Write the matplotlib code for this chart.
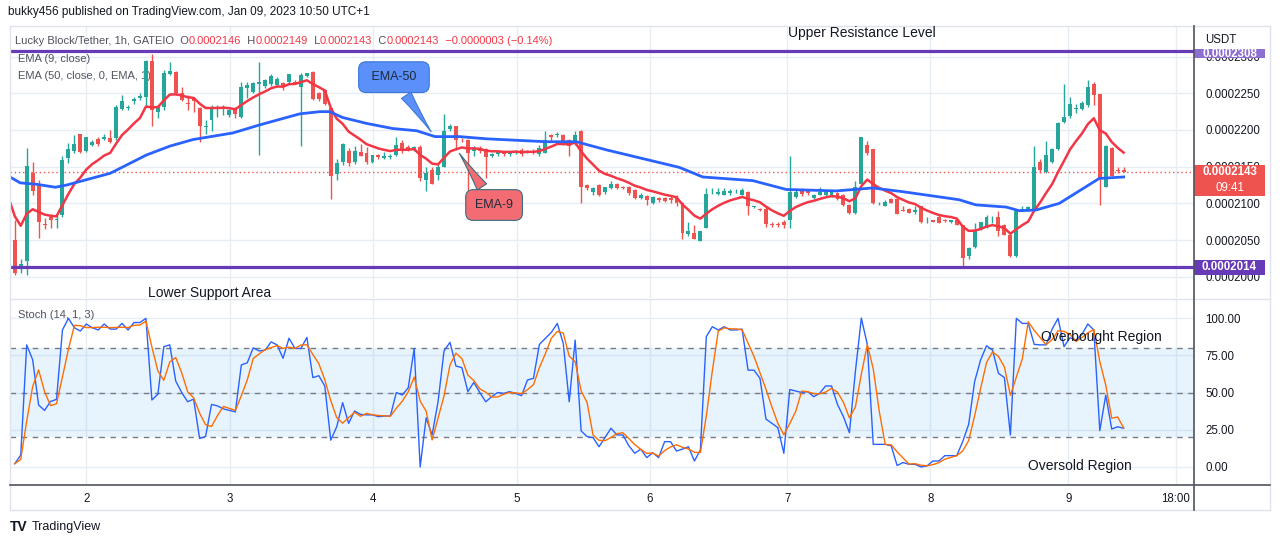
import numpy as np
import pandas as pd
import matplotlib
matplotlib.use('Agg')
import matplotlib.pyplot as plt
from matplotlib.patches import Rectangle
from matplotlib.lines import Line2D
from matplotlib.transforms import blended_transform_factory

plt.rcParams['font.family'] = ['Liberation Sans', 'DejaVu Sans']

# LBLOCK/USDT 1h candles, prices in units of 1e-7 USDT
opens = [2050, 2010, 2021, 2141, 2124, 2072, 2081, 2077, 2084, 2162,
         2171, 2194, 2172, 2179, 2188, 2188, 2189, 2189, 2229, 2230,
         2239, 2243, 2245, 2294, 2224, 2232, 2276, 2279, 2250, 2237,
         2242, 2230, 2204, 2213, 2229, 2230, 2220, 2230, 2218, 2257,
         2252, 2263, 2260, 2263, 2261, 2264, 2265, 2266, 2258, 2274,
         2279, 2250, 2255, 2230, 2140, 2156, 2171, 2157, 2170, 2168,
         2156, 2166, 2162, 2163, 2166, 2182, 2177, 2173, 2177, 2132,
         2145, 2139, 2149, 2202, 2206, 2187, 2186, 2171, 2176, 2174,
         2165, 2167, 2171, 2167, 2168, 2173, 2170, 2172, 2167, 2169,
         2193, 2193, 2193, 2186, 2181, 2198, 2125, 2115, 2125, 2115,
         2121, 2127, 2123, 2123, 2118, 2108, 2110, 2100, 2107, 2107,
         2108, 2109, 2100, 2058, 2059, 2049, 2066, 2115, 2113, 2112,
         2114, 2115, 2112, 2116, 2095, 2093, 2093, 2072, 2072, 2075,
         2077, 2109, 2119, 2117, 2108, 2112, 2112, 2111, 2114, 2112,
         2098, 2087, 2126, 2180, 2174, 2100, 2097, 2106, 2106, 2091,
         2093, 2088, 2096, 2074, 2077, 2081, 2077, 2074, 2078, 2071,
         2028, 2040, 2065, 2068, 2077, 2082, 2071, 2057, 2028, 2091,
         2092, 2093, 2157, 2143, 2156, 2174, 2211, 2219, 2229, 2228,
         2234, 2263, 2249, 2123, 2176, 2146, 2146]
highs = [2077, 2024, 2175, 2157, 2132, 2080, 2086, 2084, 2165, 2182,
         2193, 2195, 2191, 2186, 2191, 2195, 2200, 2234, 2248, 2234,
         2245, 2250, 2295, 2304, 2234, 2282, 2293, 2280, 2259, 2248,
         2245, 2232, 2214, 2234, 2234, 2234, 2229, 2232, 2266, 2266,
         2266, 2293, 2270, 2276, 2272, 2266, 2276, 2268, 2277, 2278,
         2280, 2252, 2256, 2232, 2161, 2182, 2175, 2178, 2181, 2177,
         2166, 2167, 2170, 2167, 2191, 2186, 2180, 2178, 2180, 2150,
         2150, 2154, 2222, 2208, 2206, 2189, 2188, 2178, 2178, 2176,
         2168, 2172, 2172, 2171, 2173, 2175, 2173, 2174, 2180, 2198,
         2195, 2197, 2194, 2188, 2199, 2200, 2127, 2123, 2127, 2123,
         2130, 2128, 2124, 2124, 2120, 2114, 2112, 2110, 2109, 2109,
         2110, 2111, 2102, 2074, 2071, 2063, 2121, 2121, 2121, 2121,
         2119, 2120, 2121, 2117, 2097, 2094, 2095, 2074, 2074, 2077,
         2164, 2118, 2121, 2120, 2113, 2122, 2118, 2118, 2116, 2113,
         2099, 2130, 2190, 2185, 2174, 2102, 2105, 2107, 2107, 2097,
         2094, 2096, 2096, 2082, 2078, 2084, 2079, 2078, 2080, 2071,
         2041, 2073, 2075, 2084, 2083, 2089, 2072, 2058, 2089, 2096,
         2096, 2178, 2160, 2185, 2175, 2211, 2263, 2245, 2236, 2239,
         2268, 2265, 2249, 2180, 2177, 2149, 2149]
lows = [2003, 2005, 2002, 2112, 2053, 2065, 2066, 2067, 2081, 2155,
        2168, 2168, 2170, 2178, 2178, 2186, 2182, 2186, 2227, 2227,
        2236, 2241, 2232, 2205, 2216, 2227, 2275, 2248, 2239, 2227,
        2225, 2184, 2195, 2198, 2218, 2220, 2218, 2217, 2216, 2243,
        2250, 2166, 2257, 2260, 2258, 2255, 2263, 2262, 2178, 2272,
        2241, 2240, 2234, 2106, 2132, 2152, 2151, 2154, 2164, 2154,
        2155, 2161, 2161, 2161, 2164, 2168, 2171, 2171, 2131, 2117,
        2126, 2132, 2149, 2199, 2173, 2184, 2118, 2164, 2168, 2134,
        2163, 2165, 2165, 2165, 2167, 2165, 2168, 2167, 2165, 2168,
        2184, 2191, 2180, 2165, 2180, 2101, 2118, 2112, 2110, 2113,
        2119, 2119, 2119, 2112, 2106, 2106, 2098, 2099, 2102, 2102,
        2101, 2097, 2051, 2055, 2052, 2049, 2066, 2113, 2112, 2111,
        2112, 2114, 2111, 2084, 2094, 2090, 2068, 2068, 2068, 2067,
        2067, 2107, 2110, 2112, 2106, 2111, 2110, 2109, 2104, 2096,
        2085, 2085, 2126, 2166, 2099, 2098, 2096, 2100, 2085, 2089,
        2087, 2086, 2073, 2073, 2074, 2073, 2075, 2073, 2071, 2012,
        2024, 2039, 2064, 2066, 2073, 2056, 2057, 2027, 2027, 2090,
        2090, 2092, 2141, 2141, 2155, 2173, 2209, 2217, 2223, 2227,
        2232, 2234, 2098, 2122, 2137, 2141, 2143]
closes = [2005, 2017, 2151, 2117, 2074, 2070, 2077, 2079, 2159, 2174,
          2181, 2170, 2190, 2183, 2181, 2190, 2183, 2232, 2240, 2231,
          2242, 2246, 2294, 2227, 2232, 2277, 2280, 2250, 2241, 2235,
          2240, 2205, 2206, 2230, 2230, 2232, 2227, 2222, 2258, 2261,
          2264, 2266, 2268, 2274, 2269, 2258, 2276, 2264, 2275, 2278,
          2242, 2242, 2235, 2137, 2155, 2181, 2155, 2171, 2165, 2156,
          2166, 2163, 2165, 2165, 2180, 2173, 2174, 2177, 2134, 2141,
          2127, 2149, 2198, 2205, 2186, 2186, 2169, 2176, 2171, 2163,
          2167, 2171, 2167, 2170, 2172, 2167, 2172, 2170, 2176, 2186,
          2190, 2195, 2181, 2178, 2193, 2123, 2121, 2121, 2112, 2122,
          2127, 2121, 2121, 2114, 2108, 2112, 2105, 2109, 2105, 2103,
          2104, 2100, 2059, 2062, 2052, 2063, 2113, 2116, 2116, 2117,
          2117, 2116, 2118, 2096, 2096, 2091, 2072, 2070, 2070, 2070,
          2116, 2116, 2113, 2114, 2111, 2116, 2117, 2117, 2106, 2098,
          2087, 2123, 2190, 2168, 2101, 2101, 2102, 2101, 2086, 2090,
          2087, 2091, 2074, 2075, 2074, 2073, 2076, 2077, 2071, 2025,
          2039, 2064, 2074, 2082, 2078, 2062, 2057, 2028, 2089, 2093,
          2095, 2150, 2146, 2166, 2174, 2209, 2218, 2236, 2230, 2237,
          2259, 2248, 2134, 2178, 2137, 2144, 2143]

# EMA 50 (candle index, price)
ema50_x = [-0.8, 0.9, 3.7, 6.8, 8.7, 16, 22.1, 26, 29.9, 36.6, 41.1, 47.8, 51.2,
           52.8, 55, 59, 63.4, 67.4, 70.5, 74.6, 79.1, 89.2, 94.2, 99.2, 111.5,
           115.4, 123.8, 129.4, 137.8, 143.9, 148.9, 158.4, 161.2, 166.3, 168.5,
           171.3, 175.2, 181.9, 186]
ema50_y = [2136, 2128, 2126, 2122, 2125, 2141, 2166, 2178, 2187, 2196, 2207, 2222, 2225,
           2225, 2217, 2209, 2202, 2199, 2191, 2191, 2188, 2184, 2184, 2173, 2149,
           2136, 2131, 2119, 2117, 2121, 2116, 2105, 2098, 2095, 2090,
           2091, 2100, 2134, 2136]
ema9_start = 2102   # EMA 9 value just before the first visible candle

# Stoch (14, 1, 3) %K
stoch_k = [2.2, 8, 82, 72, 41.6, 38, 44, 45.4, 92, 99.8,
           93.5, 91.3, 96, 93.5, 92, 96, 92.6, 92.6, 96.4, 92,
           97, 97, 99.8, 45, 48.8, 80.8, 82, 57.7, 50, 43.8,
           45.6, 19.2, 20.4, 42, 41, 39, 38, 37, 68.5, 70,
           80, 77.9, 78.5, 84, 82, 73, 86.4, 79.6, 79.6, 87,
           60, 61.3, 54.4, 18, 27, 43.2, 29.3, 37.6, 35.3, 35,
           35, 33.8, 34.2, 34.2, 50, 48.3, 53.2, 79.6, 0, 33,
           21.5, 43.8, 77.9, 83.7, 67.8, 66.7, 50.6, 56.8, 50, 43.8,
           47.2, 50, 49.4, 50.6, 49.4, 47.9, 58.4, 59.5, 82.3, 86.4,
           90.4, 96.4, 83, 43.8, 85.2, 24.2, 20.4, 19.7, 13.6, 19.7,
           26, 21.5, 21.5, 14.3, 9.2, 12, 6.3, 9.6, 6.3, 17,
           17, 10.7, 12, 13.6, 4, 11.4, 87.5, 94.2, 92, 94.2,
           92, 92, 92.6, 65, 65, 59.5, 32.2, 29.3, 26.4, 9.2,
           52, 51, 50, 50.6, 47.2, 49.4, 54.4, 54.4, 42, 33.8,
           23, 64, 100, 82.3, 15.2, 15.2, 15.2, 14.3, 1, 3,
           1.8, 1.8, 0, 0.7, 4, 4, 7.6, 7.6, 7.6, 17,
           28.6, 57.3, 71.8, 81.4, 78.5, 62.9, 60, 21.5, 99.8, 96.4,
           96.4, 82.3, 82, 82, 92.6, 99.8, 80.8, 86.8, 85.2, 89,
           96, 92, 24.4, 48.3, 25.5, 27, 26]

resistance = 2308
support = 2014
last_close = 2143
countdown = '09:41'

price_ticks = [2000, 2050, 2100, 2150, 2200, 2250, 2300]
stoch_ticks = [0, 25, 50, 75, 100]
day_pos = [12, 36.1, 60.1, 84.2, 106.5, 129.6, 153.6, 176.7, 194.7]
day_labels = ['2', '3', '4', '5', '6', '7', '8', '9', '18:00']

header = [('Lucky Block/Tether, 1h, GATEIO  O', 'gray'), ('0.0002146', 'red'),
          ('  H', 'gray'), ('0.0002149', 'red'), ('  L', 'gray'), ('0.0002143', 'red'),
          ('  C', 'gray'), ('0.0002143', 'red'), ('  \u22120.0000003 (\u22120.14%)', 'red')]

UP, DOWN = '#26a69a', '#ef5350'
PURPLE = '#673ab7'
TXT = '#131722'
GRID = '#e6edf3'

W, H = 1280, 546


def rect(left, top, right, bottom):
    return [left / W, 1 - bottom / H, (right - left) / W, (bottom - top) / H]


def fxy(px, py):
    return px / W, 1 - py / H


fig = plt.figure(figsize=(W / 100, H / 100), dpi=100)
fig.patch.set_facecolor('white')
ax = fig.add_axes(rect(10, 26, 1194, 298))
ax2 = fig.add_axes(rect(10, 299, 1194, 485), sharex=ax)

x = np.arange(len(closes))
o, h, l, c = (np.array(v, dtype=float) for v in (opens, highs, lows, closes))
col = np.where(c >= o, UP, DOWN)

# ---- price panel
ax.vlines(x, l, h, colors=col, lw=1, zorder=3)
ax.bar(x, np.maximum(np.abs(c - o), 1.0), width=0.66, bottom=np.minimum(o, c),
       color=col, linewidth=0, zorder=4)

ema9 = pd.Series([ema9_start] + closes, dtype=float).ewm(span=9, adjust=False).mean()
ax.plot(np.r_[-0.8, x], ema9.values, color='#f23645', lw=1.8, zorder=5)
ax.plot(ema50_x, ema50_y, color='#2962ff', lw=2, zorder=5)

ax.axhline(resistance, color=PURPLE, lw=2.3, zorder=6)
ax.axhline(support, color=PURPLE, lw=2.3, zorder=6)
ax.axhline(last_close, color=DOWN, lw=1, ls=(0, (1, 2)), zorder=2)

ax.set_xlim(-0.8, 197.8)
ax.set_ylim(1971.1, 2341.7)
ax.set_xticks(day_pos)
ax.set_yticks(price_ticks)
ax.set_yticklabels([f'{v * 1e-7:.7f}' for v in price_ticks])
ax.yaxis.tick_right()
ax.tick_params(axis='y', length=0, pad=8, labelsize=8.3, labelcolor=TXT)
ax.tick_params(axis='x', length=0, labelbottom=False)
ax.grid(color=GRID, lw=1)
ax.set_axisbelow(True)
for s in ax.spines.values():
    s.set_visible(False)

# callouts
ax.annotate(' EMA-50 ', xy=(70.1, 2194.5), xytext=(63.6, 2272), ha='center', va='center',
            fontsize=9, color='#1e2a3a', zorder=8,
            bbox=dict(boxstyle='round,pad=0.75,rounding_size=0.6', fc='#5b8ff9', ec='#3c78d8', lw=0.8),
            arrowprops=dict(arrowstyle='wedge,tail_width=0.9,shrink_factor=0.4',
                            fc='#5b8ff9', ec='#3c78d8', lw=0.8))
ax.annotate('EMA-9', xy=(74.3, 2171.4), xytext=(80.4, 2097.8), ha='center', va='center',
            fontsize=9, color='#1e2a3a', zorder=8,
            bbox=dict(boxstyle='round,pad=0.75,rounding_size=0.6', fc='#f36c74', ec='#3b6f80', lw=0.8),
            arrowprops=dict(arrowstyle='wedge,tail_width=0.9,shrink_factor=0.4',
                            fc='#f36c74', ec='#3b6f80', lw=0.8))

# price scale labels
tr = blended_transform_factory(ax.transAxes, ax.transData)
bw = 71 / 1184
ax.add_patch(Rectangle((1.0, 2110), bw, 42.3, transform=tr, fc=DOWN, ec='none',
                       clip_on=False, zorder=9))
ax.text(1.0 + bw / 2, last_close, f'{last_close * 1e-7:.7f}', transform=tr, ha='center',
        va='center', color='white', fontsize=8.3, fontweight='bold', zorder=10, clip_on=False)
ax.text(1.0 + bw / 2, 2121, countdown, transform=tr, ha='center', va='center',
        color='white', fontsize=8.3, zorder=10, clip_on=False)
ax.add_patch(Rectangle((1.0, 2002.6), bw, 20.4, transform=tr, fc=PURPLE, ec='none',
                       clip_on=False, zorder=9))
ax.text(1.0 + bw / 2, 2012.7, f'{support * 1e-7:.7f}', transform=tr, ha='center',
        va='center', color='white', fontsize=8.3, fontweight='bold', zorder=10, clip_on=False)
top_box = Rectangle((1.0, 2297.5), bw, 13, transform=tr, fc='#8d6fd1', ec='none',
                    clip_on=False, zorder=9)
ax.add_patch(top_box)
t = ax.text(1.0 + bw / 2, 2303, f'{resistance * 1e-7:.7f}', transform=tr, ha='center',
            va='center', color='white', fontsize=8.3, fontweight='bold', zorder=10)
t.set_clip_path(top_box)

# ---- stochastic panel
k = pd.Series(stoch_k)
d = k.rolling(3, min_periods=1).mean()
ax2.axhspan(20, 80, color='#2196f3', alpha=0.1, lw=0, zorder=1)
for lvl in (20, 50, 80):
    ax2.axhline(lvl, color='#787b86', lw=1, ls=(0, (4, 4)), zorder=2)
ax2.plot(x, k, color='#2962ff', lw=1, zorder=4)
ax2.plot(x, d, color='#ff6d00', lw=1, zorder=4)
ax2.set_ylim(-12.1, 112.8)
ax2.set_yticks(stoch_ticks)
ax2.set_yticklabels([f'{v:.2f}' for v in stoch_ticks])
ax2.yaxis.tick_right()
ax2.tick_params(axis='y', length=0, pad=8, labelsize=8.3, labelcolor=TXT)
ax2.set_xticks(day_pos)
ax2.set_xticklabels(day_labels)
ax2.tick_params(axis='x', length=0, pad=6, labelsize=8.3, labelcolor=TXT)
ax2.grid(color=GRID, lw=1)
ax2.set_axisbelow(True)
for s in ax2.spines.values():
    s.set_visible(False)

# ---- frame lines
def fline(x0, y0, x1, y1, color, lw=1):
    (a, b), (cc, dd) = fxy(x0, y0), fxy(x1, y1)
    fig.add_artist(Line2D([a, cc], [b, dd], color=color, lw=lw))

fline(10, 26, 1270, 26, '#e0e3eb')
fline(10, 510, 1270, 510, '#e0e3eb')
fline(10, 26, 10, 510, '#e0e3eb')
fline(1270, 26, 1270, 510, '#e0e3eb')
fline(10, 298.5, 1270, 298.5, '#e0e3eb')
fline(10, 485, 1270, 485, '#50535e', 1.2)
fline(1194, 26, 1194, 510, '#50535e', 1.2)

# ---- texts
fig.text(*fxy(8, 12), 'bukky456 published on TradingView.com, Jan 09, 2023 10:50 UTC+1',
         fontsize=8.5, color=TXT, va='center')
palette = {'gray': '#50535e', 'red': '#f23645'}
prev = ax.text(*fxy(15, 41), header[0][0], transform=fig.transFigure, fontsize=8,
               color=palette[header[0][1]], va='center', zorder=2)
for seg, cname in header[1:]:
    prev = ax.annotate(seg, xy=(1, 0), xycoords=prev, va='bottom', ha='left',
                       fontsize=8, color=palette[cname], annotation_clip=False, zorder=2)
ax.text(*fxy(18, 59), 'EMA (9, close)', transform=fig.transFigure, fontsize=8,
        color='#50535e', va='center', zorder=2)
ax.text(*fxy(18, 76), 'EMA (50, close, 0, EMA, 1)', transform=fig.transFigure, fontsize=8,
        color='#50535e', va='center', zorder=2)
fig.text(*fxy(862, 33), 'Upper Resistance Level', fontsize=10, color=TXT, ha='center', va='center')
fig.text(*fxy(210, 293), 'Lower Support Area', fontsize=10, color=TXT, ha='center', va='center')
fig.text(*fxy(18, 315), 'Stoch (14, 1, 3)', fontsize=8, color='#50535e', va='center')
fig.text(*fxy(1101, 337), 'Overbought Region', fontsize=10, color=TXT, ha='center', va='center')
fig.text(*fxy(1080, 466), 'Oversold Region', fontsize=10, color=TXT, ha='center', va='center')
fig.text(*fxy(1205, 40), 'USDT', fontsize=8.3, color=TXT, va='center')
logo = fig.text(*fxy(10, 527), 'TV', fontsize=10, fontweight='heavy', color=TXT, va='center')
fig.text(*fxy(32, 527), 'TradingView', fontsize=9, color=TXT, va='center')

fig.savefig('out.png', dpi=100)
